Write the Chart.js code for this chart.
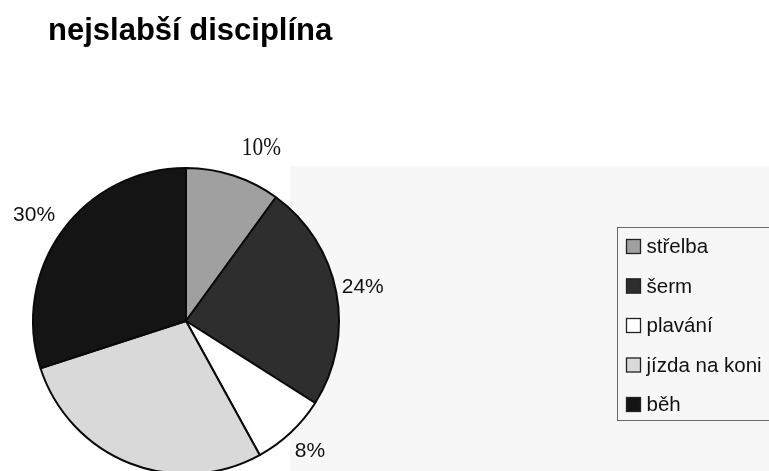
<!DOCTYPE html>
<html lang="cs">
<head>
<meta charset="utf-8">
<title>nejslabší disciplína</title>
<script src="https://cdn.jsdelivr.net/npm/chart.js@4/dist/chart.umd.min.js"></script>
<style>
  html, body { margin: 0; padding: 0; background: #ffffff; overflow: hidden; }
  #wrap { position: relative; width: 769px; height: 480px; }
  canvas { display: block; }
</style>
</head>
<body>
<div id="wrap"><canvas id="c" width="769" height="480"></canvas></div>
<script>
// Disciplines and their share (percent) of answers
const categories = ['střelba', 'šerm', 'plavání', 'jízda na koni', 'běh'];
const shares = [10, 24, 8, 28, 30];
const chartTitle = 'nejslabší disciplína';

// Greyscale fills, one per discipline
const fills = ['#a0a0a0', '#2e2e2e', '#ffffff', '#d9d9d9', '#141414'];

const SANS = 'Arial, "Liberation Sans", Helvetica, sans-serif';
const SERIF = '"Liberation Serif", "Times New Roman", serif';

// Label styling: the first label is set in a condensed serif face
const labelFonts = [
  { font: '26px ' + SERIF, scaleX: 0.82 },
  { font: '21px ' + SANS, scaleX: 1 },
  { font: '21px ' + SANS, scaleX: 1 },
  { font: '21px ' + SANS, scaleX: 1 },
  { font: '21px ' + SANS, scaleX: 1 }
];
// Small hand adjustments of the label boxes (px)
const labelNudge = [[19, -5], [-4, -1], [2, 4], [0, 0], [-3, -4]];

// Paper background, title, and a pale grey panel behind the chart
const backdrop = {
  id: 'backdrop',
  beforeDraw(chart) {
    const ctx = chart.ctx;
    ctx.save();
    ctx.fillStyle = '#ffffff';
    ctx.fillRect(0, 0, chart.width, chart.height);
    ctx.fillStyle = '#f7f7f7';
    ctx.fillRect(290, 166, chart.width - 290, chart.height - 166);
    ctx.fillStyle = '#000000';
    ctx.font = 'bold 31px ' + SANS;
    ctx.textBaseline = 'alphabetic';
    ctx.textAlign = 'left';
    ctx.fillText(chartTitle, 48, 40);
    ctx.restore();
  }
};

// Percentage labels placed just outside each slice
const sliceLabels = {
  id: 'sliceLabels',
  afterDatasetsDraw(chart) {
    const ctx = chart.ctx;
    const meta = chart.getDatasetMeta(0);
    ctx.save();
    ctx.fillStyle = '#111111';
    ctx.textAlign = 'center';
    ctx.textBaseline = 'middle';
    meta.data.forEach((arc, i) => {
      const txt = shares[i] + '%';
      const st = labelFonts[i];
      ctx.font = st.font;
      const w = ctx.measureText(txt).width * st.scaleX;
      const h = parseFloat(st.font);
      const mid = (arc.startAngle + arc.endAngle) / 2;
      const c = Math.cos(mid), s = Math.sin(mid);
      const r = arc.outerRadius + 10;
      const x = arc.x + c * r + c * w / 2 + labelNudge[i][0];
      const y = arc.y + s * r + s * h / 2 + labelNudge[i][1];
      ctx.save();
      ctx.translate(x, y);
      ctx.scale(st.scaleX, 1);
      ctx.fillText(txt, 0, 0);
      ctx.restore();
    });
    ctx.restore();
  }
};

// Boxed legend on the right
const boxLegend = {
  id: 'boxLegend',
  afterDraw(chart) {
    const ctx = chart.ctx;
    const left = 617.5, top = 227.5, rowH = 39.5, firstY = 246.5;
    ctx.save();
    ctx.strokeStyle = '#6a6a6a';
    ctx.lineWidth = 1;
    ctx.strokeRect(left, top, 200, 193);
    ctx.font = '20.5px ' + SANS;
    ctx.textAlign = 'left';
    ctx.textBaseline = 'middle';
    chart.data.labels.forEach((lab, i) => {
      const cy = firstY + i * rowH;
      ctx.fillStyle = chart.data.datasets[0].backgroundColor[i];
      ctx.fillRect(626, cy - 7.5, 15, 15);
      ctx.strokeStyle = '#222222';
      ctx.lineWidth = 1.3;
      ctx.strokeRect(626.5, cy - 7, 14, 14);
      ctx.fillStyle = '#111111';
      ctx.fillText(lab, 646.5, cy + 1);
    });
    ctx.restore();
  }
};

new Chart(document.getElementById('c'), {
  type: 'pie',
  data: {
    labels: categories,
    datasets: [{
      data: shares,
      backgroundColor: fills,
      borderColor: '#0a0a0a',
      borderWidth: 2,
      borderAlign: 'center'
    }]
  },
  options: {
    responsive: false,
    devicePixelRatio: 1,
    animation: false,
    radius: 153,
    layout: { padding: { left: 33, top: 168, right: 430, bottom: 6 } },
    plugins: {
      legend: { display: false },
      tooltip: { enabled: false },
      title: { display: false }
    }
  },
  plugins: [backdrop, sliceLabels, boxLegend]
});
</script>
</body>
</html>
